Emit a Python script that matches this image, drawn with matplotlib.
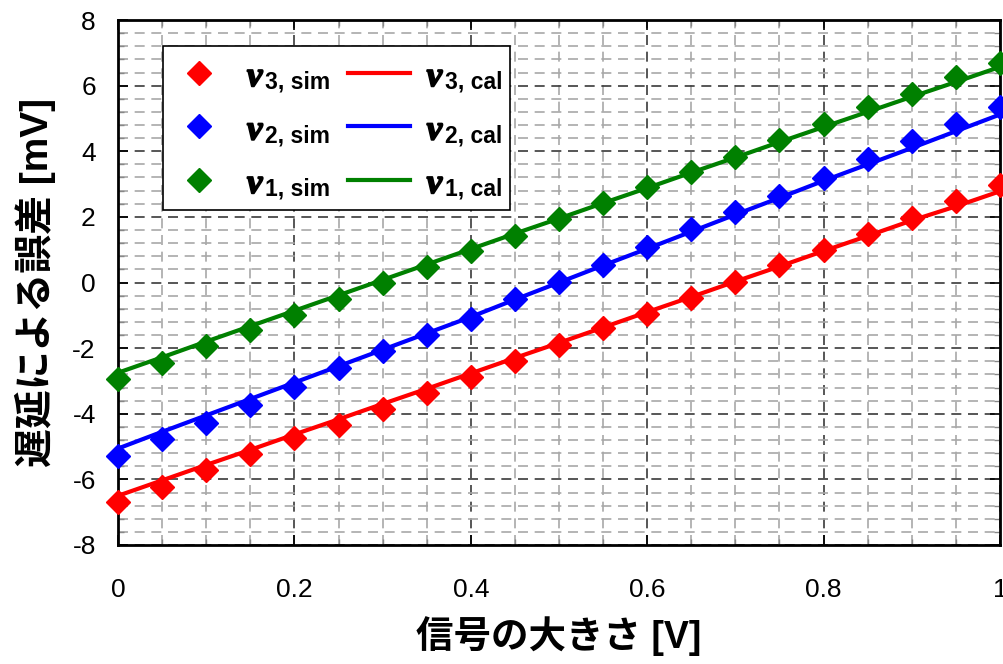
import matplotlib
matplotlib.use('Agg')
import matplotlib.pyplot as plt
import matplotlib.patheffects as pe
from matplotlib.patches import Rectangle
from matplotlib.ticker import MultipleLocator

# ---- data ----
x = [0.00, 0.05, 0.10, 0.15, 0.20, 0.25, 0.30, 0.35, 0.40, 0.45, 0.50,
     0.55, 0.60, 0.65, 0.70, 0.75, 0.80, 0.85, 0.90, 0.95, 1.00]

v1_sim = [-2.93, -2.44, -1.95, -1.46, -0.98, -0.49, -0.03, 0.46, 0.95, 1.43, 1.95,
          2.41, 2.90, 3.38, 3.84, 4.33, 4.82, 5.34, 5.76, 6.25, 6.70]
v2_sim = [-5.30, -4.76, -4.27, -3.72, -3.17, -2.62, -2.10, -1.59, -1.10, -0.49, 0.03,
          0.52, 1.07, 1.62, 2.16, 2.65, 3.20, 3.75, 4.30, 4.82, 5.34]
v3_sim = [-6.70, -6.22, -5.70, -5.24, -4.73, -4.33, -3.84, -3.38, -2.87, -2.38, -1.89,
          -1.40, -0.95, -0.46, 0.03, 0.52, 1.00, 1.49, 1.98, 2.47, 2.96]

v1_cal = [-2.75, -2.28, -1.80, -1.33, -0.86, -0.39, 0.08, 0.55, 1.02, 1.49, 1.95,
          2.42, 2.88, 3.35, 3.81, 4.28, 4.74, 5.20, 5.66, 6.11, 6.57]
v2_cal = [-5.06, -4.55, -4.05, -3.55, -3.05, -2.55, -2.05, -1.55, -1.05, -0.52, 0.00,
          0.52, 1.03, 1.55, 2.07, 2.58, 3.10, 3.60, 4.10, 4.61, 5.12]
v3_cal = [-6.50, -6.03, -5.56, -5.10, -4.63, -4.17, -3.70, -3.24, -2.77, -2.30, -1.84,
          -1.37, -0.90, -0.44, 0.03, 0.49, 0.96, 1.42, 1.89, 2.32, 2.78]

x_ticks = [0, 0.2, 0.4, 0.6, 0.8, 1]
x_tick_labels = ['0', '0.2', '0.4', '0.6', '0.8', '1']
y_ticks = [-8, -6, -4, -2, 0, 2, 4, 6, 8]

xlabel = '信号の大きさ [V]'
ylabel = '遅延による誤差 [mV]'
var_symbol = 'v'
legend_subs = ['3, sim', '2, sim', '1, sim', '3, cal', '2, cal', '1, cal']

plt.rcParams['font.family'] = ['Liberation Sans', 'Noto Sans CJK JP', 'DejaVu Sans']
plt.rcParams['axes.unicode_minus'] = False

fig = plt.figure(figsize=(10.04, 6.64), dpi=100)
ax = fig.add_axes([118/1004, 1-545/664, 882/1004, 525/664])

red, blue, green = '#ff0000', '#0000ff', '#008000'
ms = 12

l3, = ax.plot(x, v3_cal, color=red, lw=3, zorder=3)
l2, = ax.plot(x, v2_cal, color=blue, lw=3, zorder=3)
l1, = ax.plot(x, v1_cal, color=green, lw=3, zorder=3)
p3, = ax.plot(x, v3_sim, 'D', color=red, ms=ms, mec=red, zorder=4, clip_on=False)
p2, = ax.plot(x, v2_sim, 'D', color=blue, ms=ms, mec=blue, zorder=4, clip_on=False)
p1, = ax.plot(x, v1_sim, 'D', color=green, ms=ms, mec=green, zorder=4, clip_on=False)

ax.set_xlim(0, 1)
ax.set_ylim(-8, 8)
ax.set_xticks(x_ticks)
ax.set_xticklabels(x_tick_labels)
ax.set_yticks(y_ticks)
ax.xaxis.set_minor_locator(MultipleLocator(0.05))
ax.yaxis.set_minor_locator(MultipleLocator(0.4))

ax.set_axisbelow(True)
ax.grid(which='major', linestyle=(0, (6, 4)), color='#3a3a3a', lw=1.2)
ax.grid(which='minor', linestyle=(0, (6, 4)), color='#a8a8a8', lw=1.2)

ax.tick_params(which='both', direction='in', top=True, right=True, colors='black')
ax.tick_params(which='major', length=7, width=1.2, labelsize=19)
ax.tick_params(which='minor', length=4, width=1.0, color='#888888')
ax.tick_params(axis='x', which='major', pad=24)
ax.tick_params(axis='y', which='major', pad=16)
for s in ax.spines.values():
    s.set_linewidth(2)
    s.set_color('black')

ax.set_xlabel(xlabel, fontsize=27, fontweight='bold', labelpad=10)
ax.set_ylabel(ylabel, fontsize=28, fontweight='bold', labelpad=12)

leg = ax.legend([p3, p2, p1, l3, l2, l1], legend_subs, ncol=2, loc='upper left',
                bbox_to_anchor=(50/882, 482/525), borderaxespad=0,
                prop={'size': 16.5, 'weight': 'bold'}, frameon=False,
                handlelength=2.7, handletextpad=1.55,
                columnspacing=0.75, labelspacing=1.33, borderpad=0.0,
                numpoints=1)

# legend labels sit a little below the symbol centre
for t in leg.get_texts():
    t.set_position((0, -8))

fig.canvas.draw()
bb = leg.get_window_extent()
inv = ax.transAxes.inverted()
(x0, y0) = inv.transform((bb.x0 - 5, bb.y0 - 17))
(x1, y1) = inv.transform((bb.x1 + 7, bb.y1 + 17))
ax.add_patch(Rectangle((x0, y0), x1 - x0, y1 - y0, transform=ax.transAxes,
                       facecolor='white', edgecolor='black', lw=1.2, zorder=4.9))

for t in leg.get_texts():
    ax.annotate(var_symbol, xy=(0, 0), xycoords=t, xytext=(-3, 0),
                textcoords='offset pixels', ha='right', va='bottom',
                fontsize=25, family='Liberation Serif', style='italic',
                weight='bold', zorder=10, annotation_clip=False,
                path_effects=[pe.withStroke(linewidth=1.3, foreground='black')])

fig.savefig('out.png', dpi=100)
